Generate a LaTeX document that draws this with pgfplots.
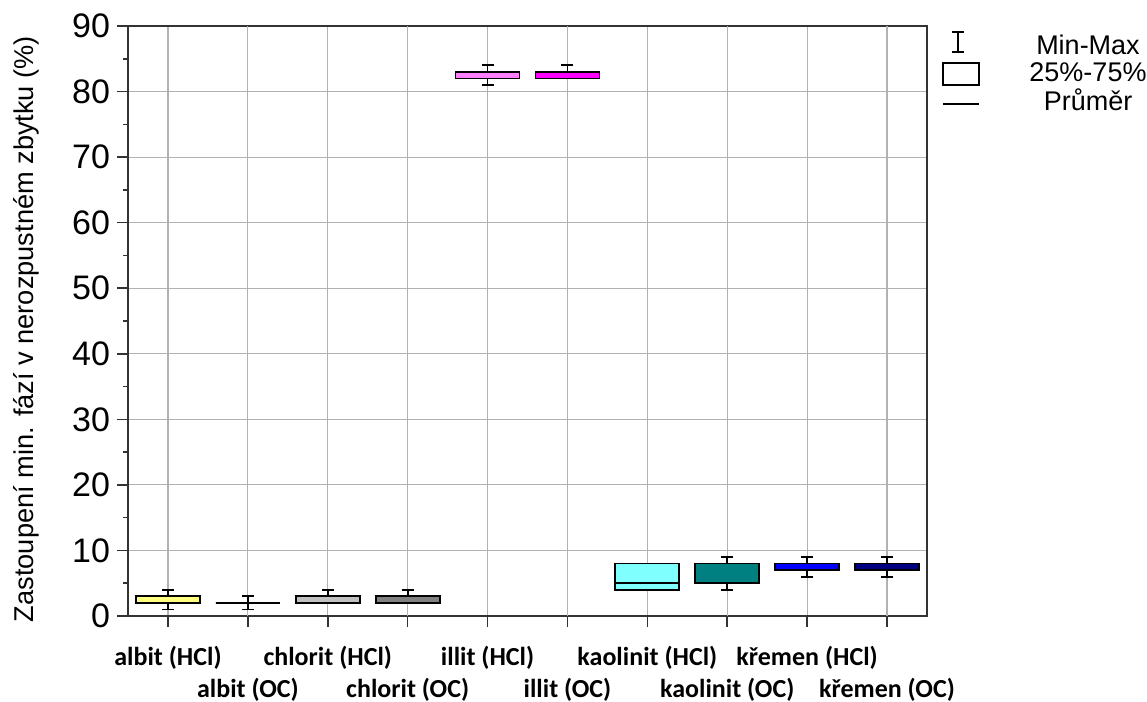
\documentclass[border=0pt]{standalone}
\usepackage{pgfplots}
\pgfplotsset{compat=1.18}
\usepgfplotslibrary{statistics}
\usepackage{fontspec}
\setmainfont{Liberation Sans}
\newfontfamily\carlito{Carlito}
\definecolor{cYel}{HTML}{FFFF80}
\definecolor{cLG}{HTML}{C0C0C0}
\definecolor{cDG}{HTML}{808080}
\definecolor{cPink}{HTML}{FF80FF}
\definecolor{cMag}{HTML}{FF00FF}
\definecolor{cCyan}{HTML}{80FFFF}
\definecolor{cTeal}{HTML}{008080}
\definecolor{cBlue}{HTML}{0000FF}
\definecolor{cNavy}{HTML}{000080}
\begin{document}
\begin{tikzpicture}
\path[use as bounding box] (-64pt,-43pt) rectangle (509.5pt,308pt);
\begin{axis}[
  scale only axis, width=399.5pt, height=295pt,
  xmin=-0.5, xmax=9.5, ymin=0, ymax=90,
  ytick={0,10,...,90}, minor y tick num=1,
  xtick={0,2,4,6,8},
  xticklabels={albit (HCl),chlorit (HCl),illit (HCl),kaolinit (HCl),křemen (HCl)},
  extra x ticks={1,3,5,7,9},
  extra x tick labels={albit (OC),chlorit (OC),illit (OC),kaolinit (OC),křemen (OC)},
  extra x tick style={grid=major, xticklabel style={yshift=-16pt}},
  grid=major, grid style={black!30, line width=0.6pt},
  axis line style={line width=0.9pt, black!80},
  tick align=outside, major tick length=5.5pt, minor tick length=2.5pt,
  xtick pos=bottom, ytick pos=left,
  tick style={black!80, line width=0.8pt},
  /pgf/number format/assume math mode=true,
  y tick label style={font=\fontsize{17}{17}\selectfont},
  x tick label style={font=\carlito\bfseries\fontsize{13}{13}\selectfont, yshift=-6pt},
  ylabel={Zastoupení min. fází v nerozpustném zbytku (\%)},
  ylabel style={font=\fontsize{13.6}{13.6}\selectfont, yshift=9.5pt, xshift=-4pt},
  boxplot/draw direction=y,
  every boxplot/.style={draw=black, line width=0.9pt},
]
\addplot[draw=black, line width=0.9pt, fill=cYel, boxplot prepared={draw position=0, lower whisker=1, lower quartile=2, median=2, upper quartile=3, upper whisker=4, box extend=0.8, whisker extend=0.15}] coordinates {};
\addplot[draw=black, line width=0.9pt, boxplot prepared={draw position=1, lower whisker=1, lower quartile=2, median=2, upper quartile=2, upper whisker=3, box extend=0.8, whisker extend=0.15}] coordinates {};
\addplot[draw=black, line width=0.9pt, fill=cLG, boxplot prepared={draw position=2, lower whisker=2, lower quartile=2, median=2, upper quartile=3, upper whisker=4, box extend=0.8, whisker extend=0.15}] coordinates {};
\addplot[draw=black, line width=0.9pt, fill=cDG, boxplot prepared={draw position=3, lower whisker=2, lower quartile=2, median=2, upper quartile=3, upper whisker=4, box extend=0.8, whisker extend=0.15}] coordinates {};
\addplot[draw=black, line width=0.9pt, fill=cPink, boxplot prepared={draw position=4, lower whisker=81, lower quartile=82, median=82, upper quartile=83, upper whisker=84, box extend=0.8, whisker extend=0.15}] coordinates {};
\addplot[draw=black, line width=0.9pt, fill=cMag, boxplot prepared={draw position=5, lower whisker=82, lower quartile=82, median=82, upper quartile=83, upper whisker=84, box extend=0.8, whisker extend=0.15}] coordinates {};
\addplot[draw=black, line width=0.9pt, fill=cCyan, boxplot prepared={draw position=6, lower whisker=4, lower quartile=4, median=5, upper quartile=8, upper whisker=8, box extend=0.8, whisker extend=0.15}] coordinates {};
\addplot[draw=black, line width=0.9pt, fill=cTeal, boxplot prepared={draw position=7, lower whisker=4, lower quartile=5, median=5, upper quartile=8, upper whisker=9, box extend=0.8, whisker extend=0.15}] coordinates {};
\addplot[draw=black, line width=0.9pt, fill=cBlue, boxplot prepared={draw position=8, lower whisker=6, lower quartile=7, median=7, upper quartile=8, upper whisker=9, box extend=0.8, whisker extend=0.15}] coordinates {};
\addplot[draw=black, line width=0.9pt, fill=cNavy, boxplot prepared={draw position=9, lower whisker=6, lower quartile=7, median=7, upper quartile=8, upper whisker=9, box extend=0.8, whisker extend=0.15}] coordinates {};
\end{axis}
% legend
\draw[line width=0.9pt] (415pt,282pt) -- (415pt,292pt);
\draw[line width=0.9pt] (412pt,282pt) -- (418pt,282pt);
\draw[line width=0.9pt] (412pt,292pt) -- (418pt,292pt);
\draw[line width=0.9pt] (407.5pt,265.5pt) rectangle (425.5pt,276.5pt);
\draw[line width=0.9pt] (407.5pt,256pt) -- (425.5pt,256pt);
\begin{scope}[every node/.style={font=\fontsize{13.5}{13.5}\selectfont, inner sep=0pt}]
\node at (480pt,285.5pt) {Min-Max};
\node at (480pt,272pt) {25\%-75\%};
\node at (480pt,258pt) {Průměr};
\end{scope}
\end{tikzpicture}
\end{document}
